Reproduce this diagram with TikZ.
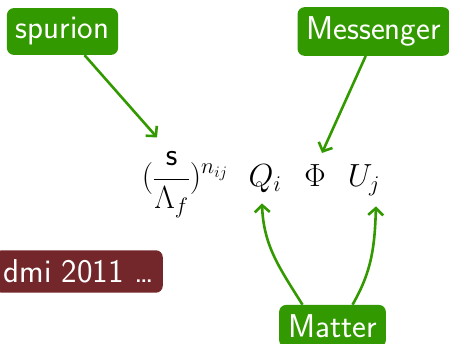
\RequirePackage{fix-cm}
\documentclass[tikz,border=0pt]{standalone}
\usetikzlibrary{arrows.meta}
\definecolor{bgreen}{RGB}{51,153,0}
\definecolor{bred}{RGB}{115,39,42}
\tikzset{
  gbox/.style={fill=bgreen, text=white, rounded corners=7pt, inner xsep=9pt, inner ysep=9.5pt,
    font=\fontsize{33}{40}\selectfont\sffamily},
  rbox/.style={fill=bred, text=white, rounded corners=7pt, inner xsep=9pt, inner ysep=9.5pt,
    font=\fontsize{33}{40}\selectfont\sffamily},
  mathnode/.style={inner sep=0pt, font=\fontsize{32}{38}\selectfont},
  garrow/.style={draw=bgreen, line width=2.6pt, -{Straight Barb[length=7pt,width=15pt,line width=2.6pt]}}
}
\begin{document}
\begin{tikzpicture}[x=1pt,y=-1pt]
\useasboundingbox (0,0) rectangle (449,344);
\node[gbox] (spurion) at (62.5,31.5) {spurion};
\node[gbox, anchor=east] (mess) at (450,31.5) {Messenger};
\node[rbox, anchor=east] (ref) at (163,271.5) {dmi 2011 \dots};
\node[gbox] (matter) at (332.5,326) {Matter};
\node[mathnode, anchor=base] (frac) at (185,187) {$\displaystyle(\frac{\mathsf{s}}{\Lambda_f})^{n_{ij}}$};
\node[mathnode, anchor=base] (Q) at (265,187) {$Q_i$};
\node[mathnode, anchor=base] (Phi) at (315,187) {$\Phi$};
\node[mathnode, anchor=base] (U) at (364,187) {$U_j$};
\draw[garrow] ([xshift=22pt]spurion.south) -- ([xshift=-28pt,yshift=14pt]frac.north);
\draw[garrow] ([xshift=-8pt]mess.south) -- ([xshift=7pt,yshift=12pt]Phi.north);
\draw[garrow] ([xshift=-30pt]matter.north) to[out=122,in=-88] ([xshift=-3pt,yshift=-10pt]Q.south);
\draw[garrow] ([xshift=20pt]matter.north) to[out=60,in=-92] ([xshift=12pt,yshift=-10pt]U.south);
\end{tikzpicture}
\end{document}
